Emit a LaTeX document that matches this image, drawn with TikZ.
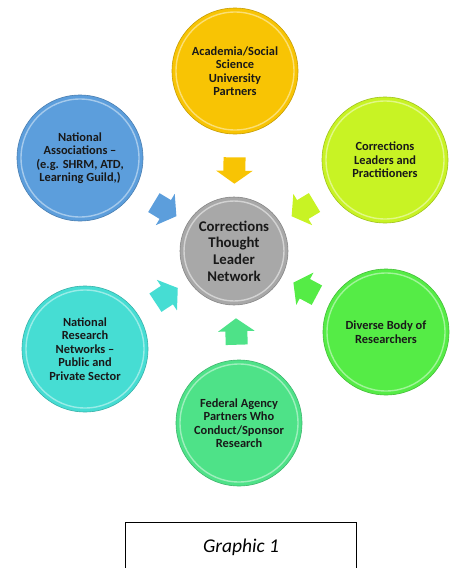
\documentclass[tikz,border=0pt]{standalone}
\usepackage{fontspec}
\setmainfont{Carlito}
\usetikzlibrary{arrows.meta}

\definecolor{acadclr}{RGB}{248,196,4}
\definecolor{assocclr}{RGB}{92,158,220}
\definecolor{leadclr}{RGB}{200,243,36}
\definecolor{netclr}{RGB}{70,221,211}
\definecolor{divclr}{RGB}{85,236,70}
\definecolor{fedclr}{RGB}{78,226,136}
\definecolor{hubclr}{RGB}{168,168,168}

\tikzset{
  bubble/.style={shape=circle, minimum size=126pt, inner sep=0pt, align=center,
    font=\fontsize{12.4}{13.4}\selectfont\bfseries, text=black!90,
    fill=#1, draw=#1!80!black, line width=0.6pt,
    path picture={\draw[#1!55!white, line width=1.4pt]
      (path picture bounding box.center) circle (59pt);}},
  hubnode/.style={bubble=hubclr, minimum size=108pt,
    font=\fontsize{14.8}{16.7}\selectfont\bfseries,
    path picture={\draw[hubclr!50!white, line width=1.4pt]
      (path picture bounding box.center) circle (50pt);}},
  feed/.style={draw=#1, line width=22pt, -{Triangle[width=36pt,length=13pt]},
    shorten >=13pt}
}

\begin{document}
\begin{tikzpicture}[x=1pt,y=-1pt]
\useasboundingbox (0,0) rectangle (455,568);
\clip (0,0) rectangle (455,568);

% outer partners
\path (235,71) node (acad) [bubble=acadclr] {Academia/Social\\Science\\University\\Partners};
\path (80,158) node (assoc) [bubble=assocclr] {National\\Associations --\\(e.g. SHRM, ATD,\\Learning Guild,)};
\path (385,160) node (lead) [bubble=leadclr] {Corrections\\Leaders and\\Practitioners};
\path (85,349) node (net) [bubble=netclr] {National\\Research\\Networks --\\Public and\\Private Sector};
\path (386,332) node (div) [bubble=divclr] {Diverse Body of\\Researchers};
\path (239,423) node (fed) [bubble=fedclr] {Federal Agency\\Partners Who\\Conduct/Sponsor\\Research};

% hub
\path (234,251) node (hub) [hubnode] {Corrections\\Thought\\Leader\\Network};

\draw [feed=acadclr, shorten <=23pt] (acad) to (hub);
\draw [feed=assocclr, shorten <=23pt] (assoc) to (hub);
\draw [feed=leadclr, shorten <=19pt] (lead) to (hub);
\draw [feed=netclr, shorten <=21pt] (net) to (hub);
\draw [feed=divclr, shorten <=15pt] (div) to (hub);
\draw [feed=fedclr, shorten <=15pt] (fed) to (hub);

% caption
\path (241,547) node (caption) [draw, line width=0.9pt, minimum width=231pt, minimum height=50pt,
  font=\fontsize{19.5}{22}\selectfont\itshape] {Graphic 1};

\end{tikzpicture}
\end{document}
